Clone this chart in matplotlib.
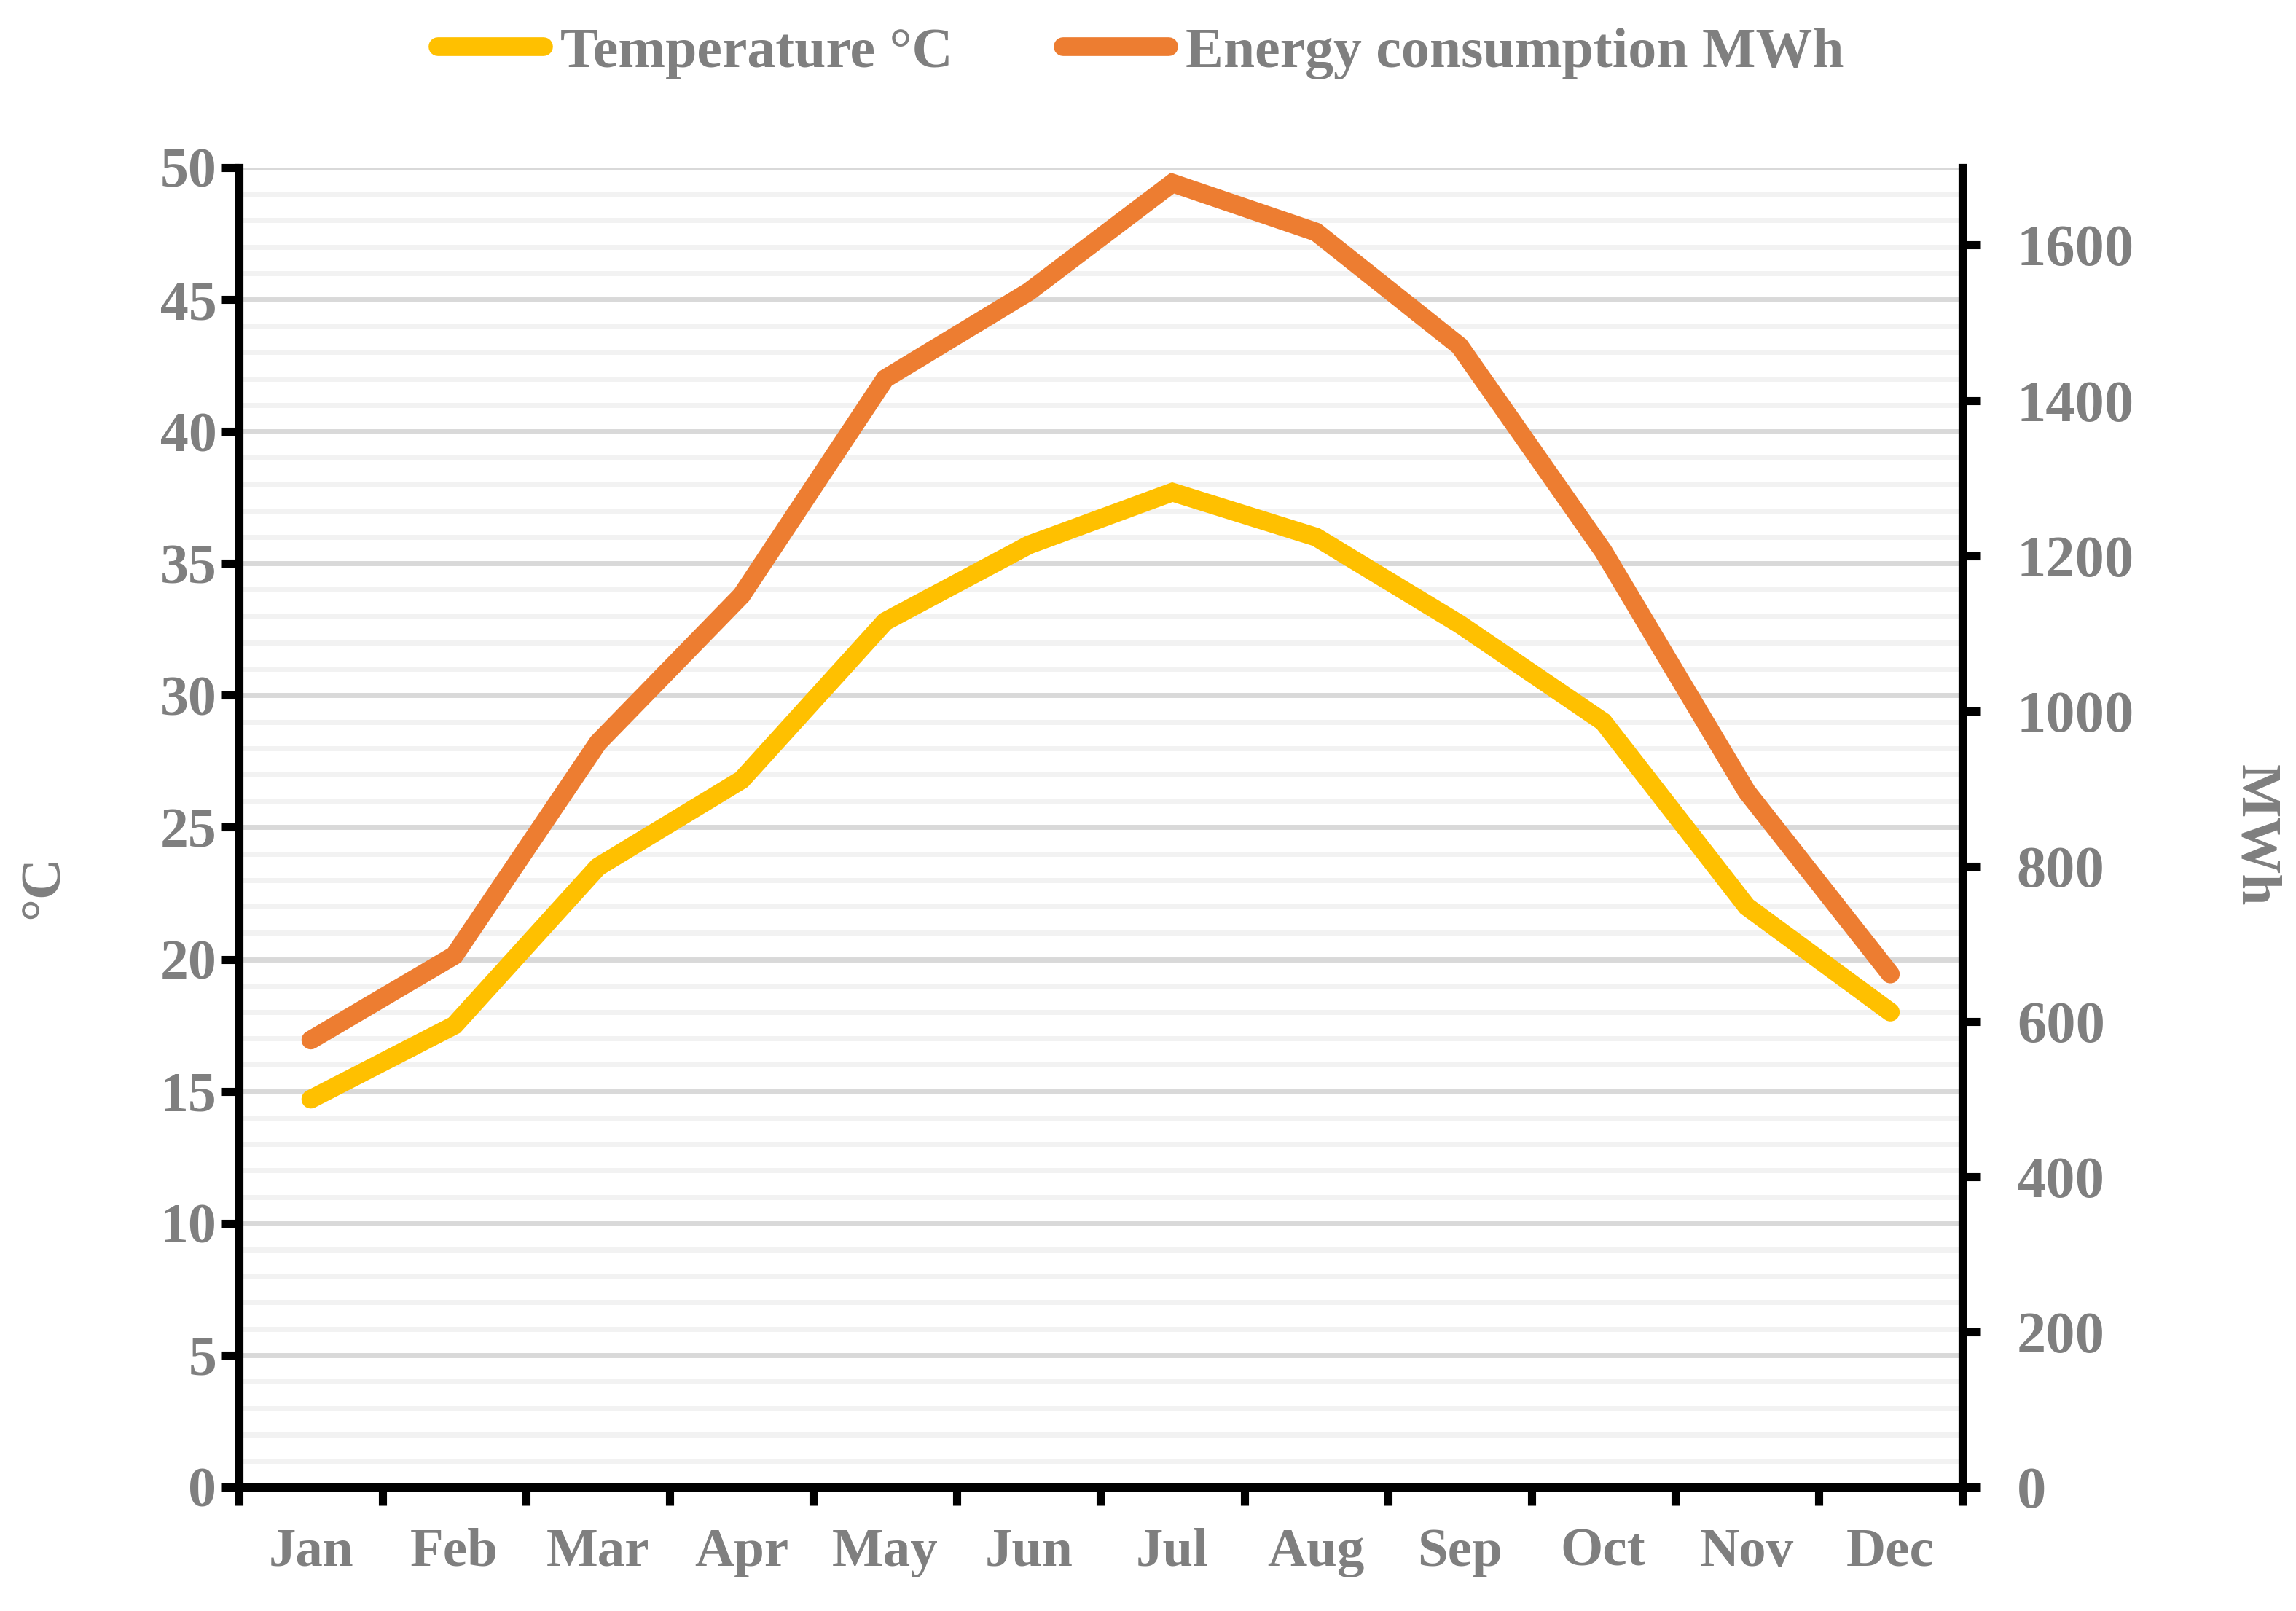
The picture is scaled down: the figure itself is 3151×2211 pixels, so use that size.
import matplotlib.pyplot as plt
from matplotlib.ticker import MultipleLocator, FixedLocator

# Data
months = ['Jan', 'Feb', 'Mar', 'Apr', 'May', 'Jun', 'Jul', 'Aug', 'Sep', 'Oct', 'Nov', 'Dec']
temperature = [14.7, 17.5, 23.5, 26.8, 32.8, 35.7, 37.7, 36.0, 32.7, 29.0, 22.0, 18.0]
energy = [576, 685, 959, 1149, 1428, 1540, 1680, 1617, 1470, 1206, 896, 661]

grey = '#7F7F7F'
plt.rcParams['font.family'] = ['Liberation Serif', 'DejaVu Serif']
plt.rcParams['font.weight'] = 'bold'
fs = 54

fig = plt.figure(figsize=(31.51, 22.11), dpi=100)
ax = fig.add_axes([0.1041, 0.0769, 0.7505, 0.8191])
ax2 = ax.twinx()

x = list(range(len(months)))
l1, = ax.plot(x, temperature, color='#FFC000', linewidth=18.5, solid_capstyle='round',
              solid_joinstyle='miter', label='Temperature °C', zorder=3)
l2, = ax2.plot(x, energy, color='#ED7D31', linewidth=18.5, solid_capstyle='round',
               solid_joinstyle='miter', label='Energy consumption MWh', zorder=3)

# Axes limits
ax.set_xlim(-0.5, 11.5)
ax.set_ylim(0, 50)
ax2.set_ylim(0, 1700)

# Gridlines
ax.yaxis.set_major_locator(MultipleLocator(5))
ax.yaxis.set_minor_locator(MultipleLocator(1))
ax.grid(which='major', axis='y', color='#D9D9D9', linewidth=5, zorder=0)
ax.grid(which='minor', axis='y', color='#F2F2F2', linewidth=5, zorder=0)
ax.set_axisbelow(True)

# X ticks at category boundaries, labels at centers
ax.xaxis.set_major_locator(FixedLocator([i - 0.5 for i in range(13)]))
ax.xaxis.set_minor_locator(FixedLocator(x))
ax.set_xticklabels([], minor=False)
ax.set_xticklabels(months, minor=True)
ax.tick_params(axis='x', which='major', length=18, width=8, color='black', direction='out')
ax.tick_params(axis='x', which='minor', length=0, pad=40, labelsize=fs, labelcolor=grey)

ax.tick_params(axis='y', which='major', length=18, width=8, direction='out', pad=4,
               labelsize=fs + 2, labelcolor=grey)
ax.tick_params(axis='y', which='minor', length=0)

ax2.yaxis.set_major_locator(MultipleLocator(200))
ax2.tick_params(axis='y', which='major', length=18, width=8, direction='out', pad=36,
                labelsize=fs + 4, labelcolor=grey)

for a in (ax, ax2):
    a.spines['top'].set_visible(False)
    for s in ('left', 'right', 'bottom'):
        a.spines[s].set_linewidth(8)
        a.spines[s].set_color('black')

for lab in ax.get_xticklabels(minor=True) + ax.get_yticklabels() + ax2.get_yticklabels():
    lab.set_fontweight('bold')

# Axis labels
ax.set_ylabel('°C', fontsize=fs + 2, color=grey, fontweight='bold', rotation=90, va='center')
ax.yaxis.set_label_coords(-0.113, 0.455)
ax2.set_ylabel('MWh', fontsize=fs + 2, color=grey, fontweight='bold', rotation=-90, va='center')
ax2.yaxis.set_label_coords(1.170, 0.494)

# Legend
fig.legend(handles=[l1, l2], loc='center', bbox_to_anchor=(0.497, 0.967), ncol=2,
           frameon=False, labelcolor=grey, handlelength=1.86,
           handletextpad=0.3, columnspacing=1.95,
           prop={'family': ['Liberation Serif', 'DejaVu Serif'], 'weight': 'bold', 'size': 56})

fig.savefig('out.png', dpi=100, facecolor='white')
